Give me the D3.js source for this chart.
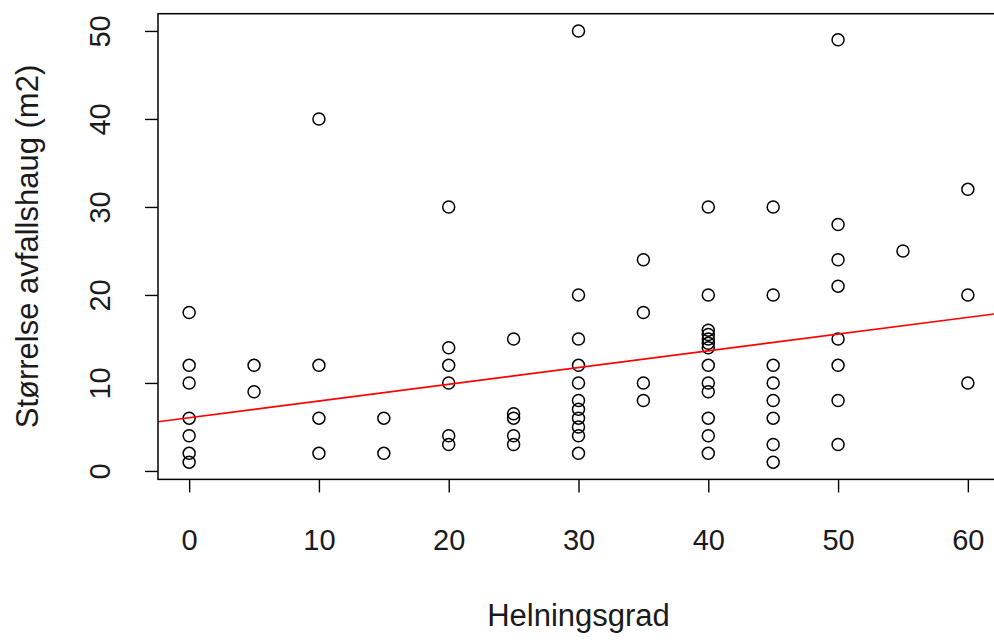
<!DOCTYPE html>
<html>
<head>
<meta charset="utf-8">
<script src="https://cdn.jsdelivr.net/npm/d3@7"></script>
<style>
  html, body { margin: 0; padding: 0; background: #fff; }
  svg { display: block; }
  text { font-family: "Liberation Sans", Arial, sans-serif; fill: #1a1a1a; }
</style>
</head>
<body>
<svg id="chart" width="994" height="642"></svg>
<script>
// Slope in degrees (Helningsgrad) for each group of observations
const slopeGroups = [0, 5, 10, 15, 20, 25, 30, 35, 40, 45, 50, 55, 60];
// Size of waste heap (m2) observed at each slope group
const heapSizes = [
  [18, 12, 10, 6, 4, 2, 1],
  [12, 9],
  [40, 12, 6, 2],
  [6, 2],
  [30, 14, 12, 10, 4, 3],
  [15, 6.5, 6, 4, 3],
  [50, 20, 15, 12, 10, 8, 7, 6, 5, 4, 2],
  [24, 18, 10, 8],
  [30, 20, 16, 15.5, 15, 14.5, 14, 12, 10, 9, 6, 4, 2],
  [30, 20, 12, 10, 8, 6, 3, 1],
  [49, 28, 24, 21, 15, 12, 8, 3],
  [25],
  [32, 20, 10]
];
const xTicks = [0, 10, 20, 30, 40, 50, 60];
const yTicks = [0, 10, 20, 30, 40, 50];
// Fitted line: intercept and slope
const fitIntercept = 6.05;
const fitSlope = 0.19;

const points = [];
slopeGroups.forEach((g, i) => heapSizes[i].forEach(v => points.push({ x: g, y: v })));

const svg = d3.select("#chart");
const plot = { left: 158, right: 999, top: 13.7, bottom: 479.4 };
const tickFont = 29;
const titleFont = 31;

// R-style 4% padding on the data range
const xMin = d3.min(points, d => d.x), xMax = d3.max(points, d => d.x);
const yMin = d3.min(points, d => d.y), yMax = d3.max(points, d => d.y);
const xPad = (xMax - xMin) * 0.04, yPad = (yMax - yMin) * 0.04;

const x = d3.scaleLinear().domain([xMin - xPad, xMax + xPad]).range([plot.left, plot.right]);
const y = d3.scaleLinear().domain([yMin - yPad, yMax + yPad]).range([plot.bottom, plot.top]);

svg.append("defs").append("clipPath").attr("id", "clip")
  .append("rect")
  .attr("x", plot.left).attr("y", plot.top)
  .attr("width", plot.right - plot.left).attr("height", plot.bottom - plot.top);

// Points
svg.append("g")
  .selectAll("circle")
  .data(points)
  .join("circle")
  .attr("cx", d => x(d.x))
  .attr("cy", d => y(d.y))
  .attr("r", 6)
  .attr("fill", "none")
  .attr("stroke", "#000")
  .attr("stroke-width", 1.5);

// Regression line across the plot region
const [dx0, dx1] = x.domain();
svg.append("line")
  .attr("clip-path", "url(#clip)")
  .attr("x1", x(dx0)).attr("y1", y(fitIntercept + fitSlope * dx0))
  .attr("x2", x(dx1)).attr("y2", y(fitIntercept + fitSlope * dx1))
  .attr("stroke", "#ff0000")
  .attr("stroke-width", 1.6);

// Box around the plot
svg.append("rect")
  .attr("x", plot.left).attr("y", plot.top)
  .attr("width", plot.right - plot.left).attr("height", plot.bottom - plot.top)
  .attr("fill", "none").attr("stroke", "#000").attr("stroke-width", 1.5);

// X axis
const xAxis = svg.append("g")
  .attr("transform", `translate(0,${plot.bottom})`)
  .call(d3.axisBottom(x).tickValues(xTicks).tickSize(13).tickSizeOuter(0));
xAxis.select(".domain").remove();
xAxis.selectAll(".tick line").attr("stroke", "#000").attr("stroke-width", 1.4);
xAxis.selectAll(".tick text")
  .attr("font-size", tickFont).attr("fill", "#1a1a1a")
  .attr("font-family", "'Liberation Sans', Arial, sans-serif")
  .attr("y", 61).attr("dy", null)
  .attr("dominant-baseline", "central");

// Y axis with rotated labels
const yAxis = svg.append("g")
  .attr("transform", `translate(${plot.left},0)`)
  .call(d3.axisLeft(y).tickValues(yTicks).tickSize(13).tickSizeOuter(0));
yAxis.select(".domain").remove();
yAxis.selectAll(".tick line").attr("stroke", "#000").attr("stroke-width", 1.4);
yAxis.selectAll(".tick text")
  .attr("font-size", tickFont).attr("fill", "#1a1a1a")
  .attr("font-family", "'Liberation Sans', Arial, sans-serif")
  .attr("x", null).attr("dy", null)
  .attr("text-anchor", "middle")
  .attr("transform", "translate(-58,0) rotate(-90)")
  .attr("dominant-baseline", "central");

// Axis titles
svg.append("text")
  .attr("x", (plot.left + plot.right) / 2)
  .attr("y", 615)
  .attr("text-anchor", "middle")
  .attr("dominant-baseline", "central")
  .attr("font-size", titleFont)
  .text("Helningsgrad");

svg.append("text")
  .attr("transform", `translate(27,${(plot.top + plot.bottom) / 2}) rotate(-90)`)
  .attr("text-anchor", "middle")
  .attr("dominant-baseline", "central")
  .attr("font-size", titleFont)
  .text("Størrelse avfallshaug (m2)");
</script>
</body>
</html>
